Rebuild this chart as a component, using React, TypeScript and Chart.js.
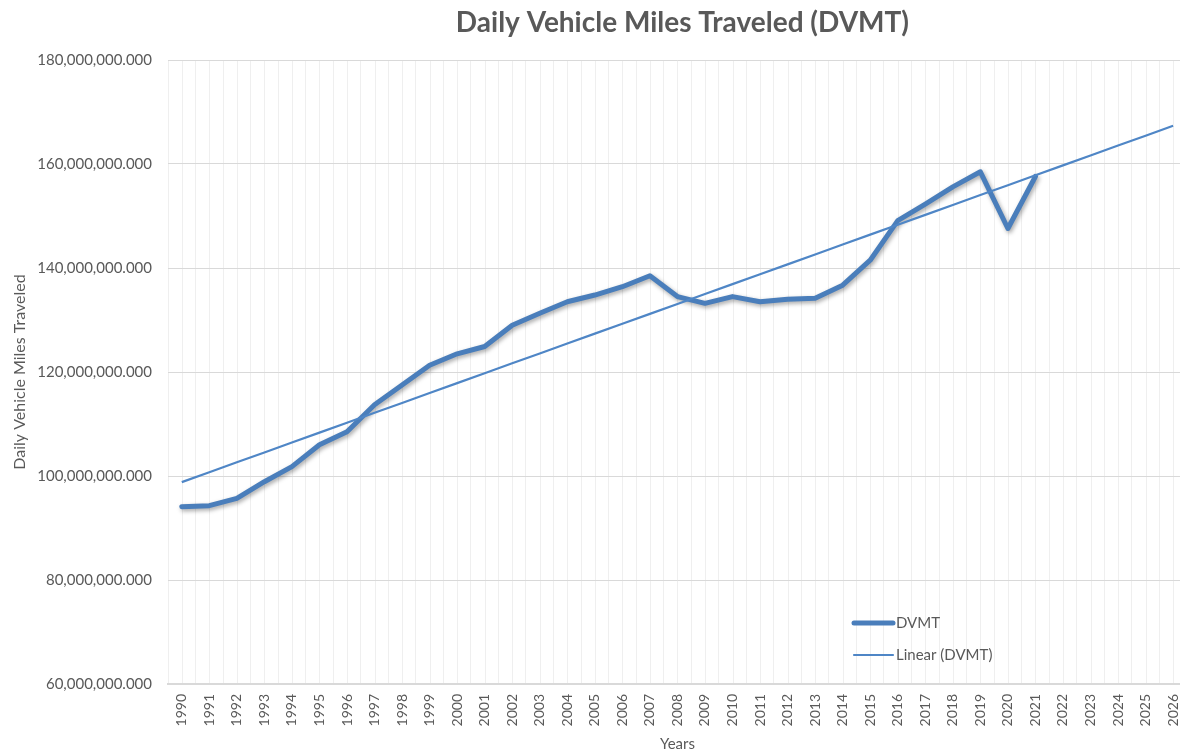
import React, { useEffect, useRef } from 'react';
import { Chart, registerables } from 'chart.js';

Chart.register(...registerables);

const years = [
  '1990', '1991', '1992', '1993', '1994', '1995', '1996', '1997', '1998', '1999',
  '2000', '2001', '2002', '2003', '2004', '2005', '2006', '2007', '2008', '2009',
  '2010', '2011', '2012', '2013', '2014', '2015', '2016', '2017', '2018', '2019',
  '2020', '2021', '2022', '2023', '2024', '2025', '2026',
];

// Daily vehicle miles traveled, 1990-2021
const dvmt = [
  94100000, 94300000, 95700000, 98900000, 101800000, 106000000, 108500000, 113700000,
  117500000, 121300000, 123500000, 124900000, 129000000, 131300000, 133500000, 134800000,
  136400000, 138500000, 134500000, 133200000, 134500000, 133500000, 134000000, 134200000,
  136700000, 141500000, 149100000, 152300000, 155600000, 158500000, 147600000, 157600000,
];

const yMin = 60000000;
const yMax = 180000000;
const yStep = 20000000;

const TITLE = 'Daily Vehicle Miles Traveled (DVMT)';
const TEXT = '#595959';
const FONT = 'Lato, "Open Sans", sans-serif';
const LINE_COLOR = '#4A7EBB';
const TREND_COLOR = '#4F86C6';

// Excel-style linear trendline (least squares on the observed values)
function linearTrend(values: number[], n: number): number[] {
  const m = values.length;
  let sx = 0, sy = 0, sxx = 0, sxy = 0;
  values.forEach((v, i) => { sx += i; sy += v; sxx += i * i; sxy += i * v; });
  const slope = (m * sxy - sx * sy) / (m * sxx - sx * sx);
  const intercept = (sy - slope * sx) / m;
  const out: number[] = [];
  for (let i = 0; i < n; i++) out.push(intercept + slope * i);
  return out;
}

const minorGridPlugin = {
  id: 'minorGrid',
  beforeDraw(chart: any) {
    const { ctx, chartArea, scales } = chart;
    const x = scales.x;
    ctx.save();
    ctx.strokeStyle = '#EFEFEF';
    ctx.lineWidth = 1;
    for (let i = 0; i < years.length; i++) {
      const px = Math.round(x.getPixelForValue(i)) + 0.5;
      ctx.beginPath();
      ctx.moveTo(px, chartArea.top);
      ctx.lineTo(px, chartArea.bottom);
      ctx.stroke();
    }
    ctx.restore();
  },
};

const plotTitlePlugin = {
  id: 'plotTitle',
  afterDraw(chart: any) {
    const { ctx, chartArea } = chart;
    ctx.save();
    ctx.fillStyle = TEXT;
    ctx.font = `bold 28px ${FONT}`;
    ctx.textAlign = 'center';
    ctx.textBaseline = 'alphabetic';
    ctx.fillText(TITLE, (chartArea.left + chartArea.right) / 2 + 5, 32);
    ctx.restore();
  },
};

const shadowPlugin = {
  id: 'lineShadow',
  beforeDatasetDraw(chart: any, args: any) {
    if (args.index === 0) {
      const ctx = chart.ctx;
      ctx.save();
      ctx.shadowColor = 'rgba(0,0,0,0.35)';
      ctx.shadowBlur = 4;
      ctx.shadowOffsetX = 1.5;
      ctx.shadowOffsetY = 2;
    }
  },
  afterDatasetDraw(chart: any, args: any) {
    if (args.index === 0) chart.ctx.restore();
  },
};

const insideLegendPlugin = {
  id: 'insideLegend',
  afterDatasetsDraw(chart: any) {
    const { ctx, chartArea } = chart;
    const x0 = chartArea.left + 686;
    const len = 39;
    const rows = [chartArea.top + 563, chartArea.top + 595];
    ctx.save();
    chart.data.datasets.forEach((ds: any, i: number) => {
      const y = rows[i];
      ctx.strokeStyle = ds.borderColor;
      ctx.lineWidth = ds.borderWidth;
      ctx.lineCap = 'round';
      ctx.beginPath();
      ctx.moveTo(x0, y);
      ctx.lineTo(x0 + len, y);
      ctx.stroke();
      ctx.fillStyle = TEXT;
      ctx.font = `15px ${FONT}`;
      ctx.textBaseline = 'middle';
      ctx.textAlign = 'left';
      ctx.fillText(ds.label, x0 + len + 3, y);
    });
    ctx.restore();
  },
};

export default function App() {
  const ref = useRef<HTMLCanvasElement | null>(null);

  useEffect(() => {
    document.body.style.margin = '0';
    document.body.style.overflow = 'hidden';
    const canvas = ref.current;
    if (!canvas) return;
    const trend = linearTrend(dvmt, years.length);
    const chart = new Chart(canvas, {
      type: 'line',
      data: {
        labels: years,
        datasets: [
          {
            label: 'DVMT',
            data: dvmt,
            borderColor: LINE_COLOR,
            backgroundColor: LINE_COLOR,
            borderWidth: 5,
            pointRadius: 0,
            tension: 0,
            borderJoinStyle: 'round',
            borderCapStyle: 'round',
            fill: false,
            order: 1,
          },
          {
            label: 'Linear (DVMT)',
            data: trend,
            borderColor: TREND_COLOR,
            backgroundColor: TREND_COLOR,
            borderWidth: 2.2,
            pointRadius: 0,
            tension: 0,
            fill: false,
            order: 0,
          },
        ],
      },
      options: {
        responsive: false,
        animation: false,
        devicePixelRatio: 1,
        layout: { padding: { left: 0, right: 6, top: 60, bottom: 0 } },
        plugins: {
          legend: { display: false },
          tooltip: { enabled: false },
          title: { display: false },
        },
        scales: {
          x: {
            type: 'category',
            offset: true,
            grid: { display: true, offset: true, color: '#EFEFEF', drawTicks: false },
            border: { display: true, color: '#D9D9D9', width: 2 },
            ticks: {
              autoSkip: false,
              maxRotation: 90,
              minRotation: 90,
              padding: 10,
              color: TEXT,
              font: { family: FONT, size: 14 },
            },
            title: {
              display: true,
              text: 'Years',
              color: TEXT,
              font: { family: FONT, size: 15 },
              padding: { top: 0, bottom: 0 },
            },
            afterFit(scale: any) { scale.height = 69; },
          },
          y: {
            min: yMin,
            max: yMax,
            grid: { color: '#D9D9D9', drawTicks: false },
            border: { display: false },
            ticks: {
              stepSize: yStep,
              padding: 16,
              color: TEXT,
              font: { family: FONT, size: 15 },
              callback: (v: any) =>
                Number(v).toLocaleString('en-US', { minimumFractionDigits: 3, maximumFractionDigits: 3 }),
            },
            title: {
              display: true,
              text: 'Daily Vehicle Miles Traveled',
              color: TEXT,
              font: { family: FONT, size: 16 },
              padding: { top: 10, bottom: 0 },
            },
            afterFit(scale: any) { scale.width = 168; },
          },
        },
      },
      plugins: [minorGridPlugin, shadowPlugin, insideLegendPlugin, plotTitlePlugin],
    });
    return () => chart.destroy();
  }, []);

  return (
    <div style={{ position: 'fixed', left: 0, top: 0, width: 1200, height: 753, background: '#fff' }}>
      <canvas ref={ref} width={1200} height={753} style={{ display: 'block' }} />
    </div>
  );
}
